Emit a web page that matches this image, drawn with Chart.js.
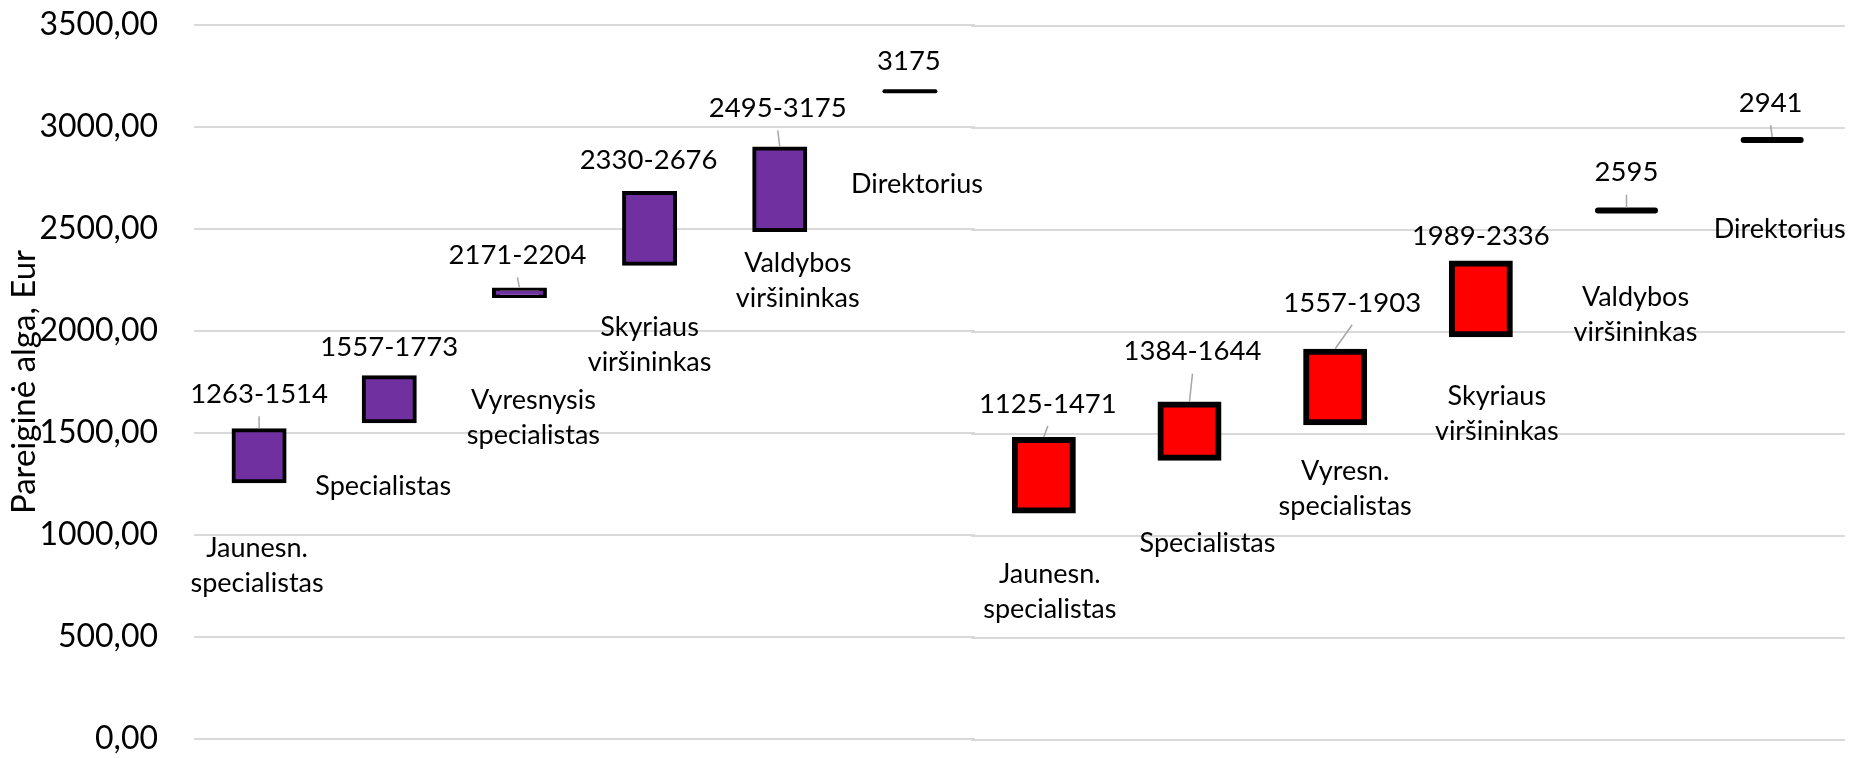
<!DOCTYPE html>
<html><head><meta charset="utf-8">
<script src="https://cdn.jsdelivr.net/npm/chart.js@4.4.0/dist/chart.umd.min.js"></script>
<style>
html,body{margin:0;padding:0;background:#fff;width:1856px;height:758px;overflow:hidden;}
canvas{position:absolute;left:0;top:0;}
</style></head><body>
<canvas id="c1" width="1856" height="758"></canvas>
<canvas id="c2" width="1856" height="758"></canvas>
<script>
// ---- data ----
const yTicks = [0, 500, 1000, 1500, 2000, 2500, 3000, 3500];
const yTitle = 'Pareiginė alga, Eur';

// left group (purple)
const leftCategories = [["Jaunesn.", "specialistas"], ["Specialistas"], ["Vyresnysis", "specialistas"], ["Skyriaus", "viršininkas"], ["Valdybos", "viršininkas"], ["Direktorius"]];
const leftMin = [1263, 1557, 2171, 2330, 2495, 3175];
const leftMax = [1514, 1773, 2204, 2676, 3175, 3175];
const leftBarLow = [1263, 1557, 2171, 2330, 2495, null];
const leftBarHigh = [1514, 1773, 2204, 2676, 2895, null];
const leftSingle = [null, null, null, null, null, 3175];

// right group (red)
const rightCategories = [["Jaunesn.", "specialistas"], ["Specialistas"], ["Vyresn.", "specialistas"], ["Skyriaus", "viršininkas"], ["Valdybos", "viršininkas"], ["Direktorius"]];
const rightMin = [1125, 1384, 1557, 1989, 2595, 2941];
const rightMax = [1471, 1644, 1903, 2336, 2595, 2941];
const rightBarLow = [1125, 1384, 1557, 1989, null, null];
const rightBarHigh = [1471, 1644, 1903, 2336, null, null];
const rightSingle = [null, null, null, null, 2595, 2941];

// ---- label layout (pixel offsets relative to the marks) ----
const leftLayout = [
  {vdx: 0, vdy: -36, leader: true, cdx: -2, cdy: 67},
  {vdx: 0, vdy: -30, leader: false, cdx: -6, cdy: 65},
  {vdx: -2, vdy: -34, leader: true, cdx: 14, cdy: 104},
  {vdx: -1, vdy: -33, leader: false, cdx: 0, cdy: 64},
  {vdx: -2, vdy: -40, leader: true, cdx: 18, cdy: 33},
  {vdx: -1, vdy: -30, leader: false, cdx: 7, cdy: 93}
];
const rightLayout = [
  {vdx: 4, vdy: -36, leader: true, cdx: 6, cdy: 63.5},
  {vdx: 3, vdy: -53, leader: true, cdx: 18, cdy: 86},
  {vdx: 17, vdy: -49, leader: true, cdx: 10, cdy: 49},
  {vdx: 0, vdy: -27.5, leader: false, cdx: 16, cdy: 62},
  {vdx: 0, vdy: -38, leader: true, cdx: 9, cdy: 87},
  {vdx: -1.5, vdy: -37, leader: true, cdx: 7.5, cdy: 89}
];

const FAMILY = 'Lato, "Open Sans", sans-serif';
const VALUE_FONT = '27.5px ' + FAMILY;
const CAT_FONT = '27px ' + FAMILY;
const CAT_LINE = 35;

function labelPlugin(g) {
  return {
    id: 'rangeLabels',
    afterDatasetsDraw(chart) {
      const ctx = chart.ctx, xs = chart.scales.x, ys = chart.scales.y;
      ctx.save();
      ctx.textAlign = 'center';
      ctx.textBaseline = 'middle';
      ctx.fillStyle = '#000';
      g.cats.forEach((cat, i) => {
        const L = g.layout[i];
        const bx = xs.getPixelForValue(i);
        const top = g.high[i] != null ? g.high[i] : g.single[i];
        const bot = g.low[i] != null ? g.low[i] : g.single[i];
        const yt = ys.getPixelForValue(top), yb = ys.getPixelForValue(bot);
        const lx = bx + L.vdx, ly = yt + L.vdy;
        const txt = g.min[i] === g.max[i] ? String(g.min[i]) : g.min[i] + '-' + g.max[i];
        ctx.font = VALUE_FONT;
        ctx.fillText(txt, lx, ly);
        if (L.leader) {
          ctx.strokeStyle = '#a6a6a6';
          ctx.lineWidth = 1.5;
          ctx.beginPath();
          ctx.moveTo(lx, ly + 22);
          ctx.lineTo(bx, yt - g.bw / 2);
          ctx.stroke();
        }
        ctx.font = CAT_FONT;
        cat.forEach((line, k) => ctx.fillText(line, bx + L.cdx, yb + L.cdy + k * CAT_LINE));
      });
      ctx.restore();
    },
    beforeDatasetDraw(chart) {
      chart.ctx.lineCap = 'round';
    },
    afterDatasetDraw(chart) {
      chart.ctx.lineCap = 'butt';
    }
  };
}

function makeChart(id, g) {
  return new Chart(document.getElementById(id), {
    type: 'bar',
    data: {
      labels: g.cats.map(c => c.join(' ')),
      datasets: [
        {
          type: 'bar',
          data: g.low.map((l, i) => l == null ? null : [l, g.high[i]]),
          backgroundColor: g.color,
          borderColor: '#000',
          borderWidth: g.bw,
          borderSkipped: false,
          inflateAmount: g.bw / 2,
          barPercentage: g.barPct,
          categoryPercentage: 1
        },
        {
          type: 'line',
          data: g.single,
          showLine: false,
          clip: false,
          pointStyle: 'line',
          pointRadius: g.lineR,
          pointHoverRadius: g.lineR,
          pointBorderWidth: g.bw,
          pointBorderColor: '#000',
          pointBackgroundColor: '#000'
        }
      ]
    },
    options: {
      responsive: false,
      animation: false,
      devicePixelRatio: 1,
      events: [],
      layout: {padding: g.padding, autoPadding: false},
      plugins: {legend: {display: false}, tooltip: {enabled: false}},
      scales: {
        x: {display: false, offset: true},
        y: {
          min: 0, max: 3500,
          afterBuildTicks: s => { s.ticks = yTicks.map(v => ({value: v})); },
          afterFit: s => { s.width = g.axisWidth; s.paddingTop = 0; s.paddingBottom = 0; },
          ticks: {
            display: g.showAxis,
            padding: 36,
            color: '#000',
            font: {family: FAMILY, size: 32, lineHeight: 1},
            callback: v => v.toFixed(2).replace('.', ',')
          },
          grid: {color: '#d9d9d9', lineWidth: 2, drawTicks: false},
          border: {display: false},
          title: {
            display: g.showAxis,
            text: yTitle,
            color: '#000',
            font: {family: FAMILY, size: 33, lineHeight: 1},
            padding: {top: 8, bottom: 0}
          }
        }
      }
    },
    plugins: [labelPlugin(g)]
  });
}

makeChart('c1', {
  cats: leftCategories, min: leftMin, max: leftMax, low: leftBarLow, high: leftBarHigh, single: leftSingle,
  layout: leftLayout, color: '#7030A0', bw: 4, barPct: 0.392, lineR: 25.5,
  padding: {left: 0, right: 881, top: 25, bottom: 19}, axisWidth: 194, showAxis: true
});
makeChart('c2', {
  cats: rightCategories, min: rightMin, max: rightMax, low: rightBarLow, high: rightBarHigh, single: rightSingle,
  layout: rightLayout, color: '#FF0000', bw: 6, barPct: 0.398, lineR: 28.5,
  padding: {left: 971, right: 11, top: 26, bottom: 18}, axisWidth: 0, showAxis: false
});
</script>
</body></html>
